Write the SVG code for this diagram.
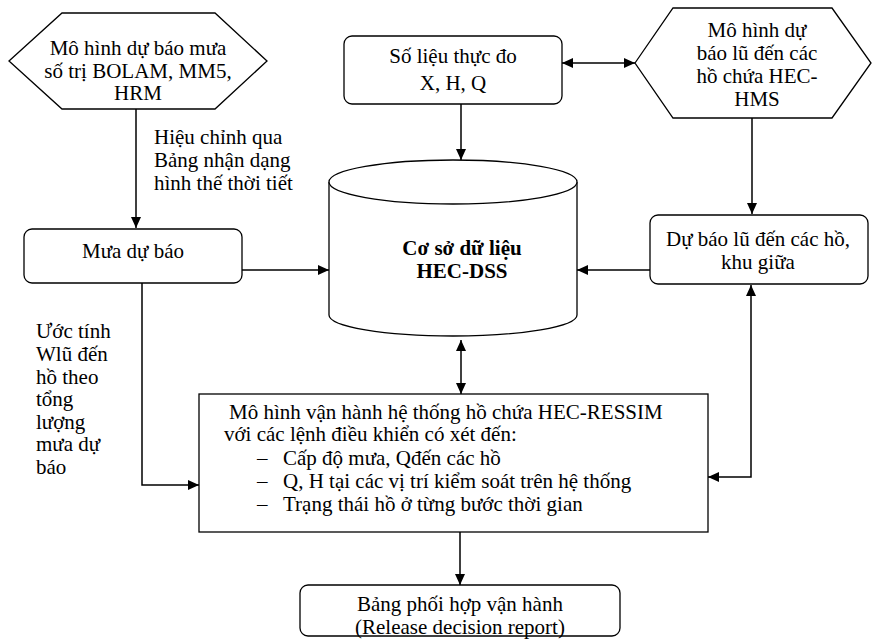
<svg xmlns="http://www.w3.org/2000/svg" width="874" height="639" viewBox="0 0 874 639">
<style>
.s{fill:#fff;stroke:#000;stroke-width:1.3}
.t{font-family:"Liberation Serif","Times New Roman",serif;font-size:21px;fill:#000}
.c{text-anchor:middle}
.b{font-weight:bold}
.ln{fill:none;stroke:#000;stroke-width:1.5}
</style>
<defs>
<marker id="ah" markerUnits="userSpaceOnUse" markerWidth="11" markerHeight="10" refX="11" refY="5" orient="auto-start-reverse">
<path d="M0,0 L11,5 L0,10 z" fill="#000"/>
</marker>
</defs>
<rect width="874" height="639" fill="#fff"/>

<g id="connectors">
<path class="ln" d="M136,109 V228" marker-end="url(#ah)"/>
<path class="ln" d="M461,104 V160" marker-end="url(#ah)"/>
<path class="ln" d="M562,63 H635" marker-start="url(#ah)" marker-end="url(#ah)"/>
<path class="ln" d="M752,118 V214" marker-end="url(#ah)"/>
<path class="ln" d="M242,270 H329" marker-end="url(#ah)"/>
<path class="ln" d="M650,270 H577" marker-end="url(#ah)"/>
<path class="ln" d="M461,340 V394" marker-start="url(#ah)" marker-end="url(#ah)"/>
<path class="ln" d="M751,285 V477 H708" marker-start="url(#ah)" marker-end="url(#ah)"/>
<path class="ln" d="M142,283 V485 H199" marker-end="url(#ah)"/>
<path class="ln" d="M460,532 V585" marker-end="url(#ah)"/>
<text class="t" x="154" y="144">Hiệu chỉnh qua</text>
<text class="t" x="154" y="167">Bảng nhận dạng</text>
<text class="t" x="154" y="190">hình thế thời tiết</text>
<text class="t" x="36" y="338">Ước tính</text>
<text class="t" x="36" y="361">Wlũ đến</text>
<text class="t" x="36" y="384">hồ theo</text>
<text class="t" x="36" y="406">tổng</text>
<text class="t" x="36" y="429">lượng</text>
<text class="t" x="36" y="451">mưa dự</text>
<text class="t" x="36" y="474">báo</text>
</g>

<g id="bolam">
<polygon class="s" points="9,61 62,13 215,13 267,61 215,109 62,109"/>
<text class="t c" x="138" y="55">Mô hình dự báo mưa</text>
<text class="t c" x="138" y="78">số trị BOLAM, MM5,</text>
<text class="t c" x="138" y="100">HRM</text>
</g>

<g id="solieu">
<rect class="s" x="344" y="36" width="218" height="68" rx="8"/>
<text class="t c" x="453" y="63">Số liệu thực đo</text>
<text class="t c" x="453" y="90">X, H, Q</text>
</g>

<g id="hechms">
<polygon class="s" points="635,63 673,8 832,8 871,63 832,118 673,118"/>
<text class="t c" x="757" y="37">Mô hình dự</text>
<text class="t c" x="757" y="60">báo lũ đến các</text>
<text class="t c" x="757" y="83">hồ chứa HEC-</text>
<text class="t c" x="757" y="106">HMS</text>
</g>

<g id="muadubao">
<rect class="s" x="24" y="229" width="218" height="54" rx="8"/>
<text class="t c" x="133" y="258">Mưa dự báo</text>
</g>

<g id="hecdss">
<path class="s" d="M329,182 V315 A124,21 0 0 0 577,315 V182"/>
<ellipse class="s" cx="453" cy="182" rx="124" ry="22"/>
<text class="t c b" x="462" y="255">Cơ sở dữ liệu</text>
<text class="t c b" x="462" y="278">HEC-DSS</text>
</g>

<g id="dubaolu">
<rect class="s" x="650" y="215" width="218" height="69" rx="8"/>
<text class="t c" x="758" y="246">Dự báo lũ đến các hồ,</text>
<text class="t c" x="758" y="269">khu giữa</text>
</g>

<g id="ressim">
<rect class="s" x="199" y="394" width="509" height="138"/>
<text class="t" x="229" y="419">Mô hình vận hành hệ thống hồ chứa HEC-RESSIM</text>
<text class="t" x="224" y="441">với các lệnh điều khiển có xét đến:</text>
<text class="t" x="257" y="465">–</text>
<text class="t" x="283" y="465">Cấp độ mưa, Qđến các hồ</text>
<text class="t" x="257" y="488">–</text>
<text class="t" x="283" y="488">Q, H tại các vị trí kiểm soát trên hệ thống</text>
<text class="t" x="257" y="511">–</text>
<text class="t" x="283" y="511">Trạng thái hồ ở từng bước thời gian</text>
</g>

<g id="bangphoihop">
<rect class="s" x="300" y="585" width="320" height="51" rx="8"/>
<text class="t c" x="460" y="611">Bảng phối hợp vận hành</text>
<text class="t c" x="460" y="634">(Release decision report)</text>
</g>
</svg>
